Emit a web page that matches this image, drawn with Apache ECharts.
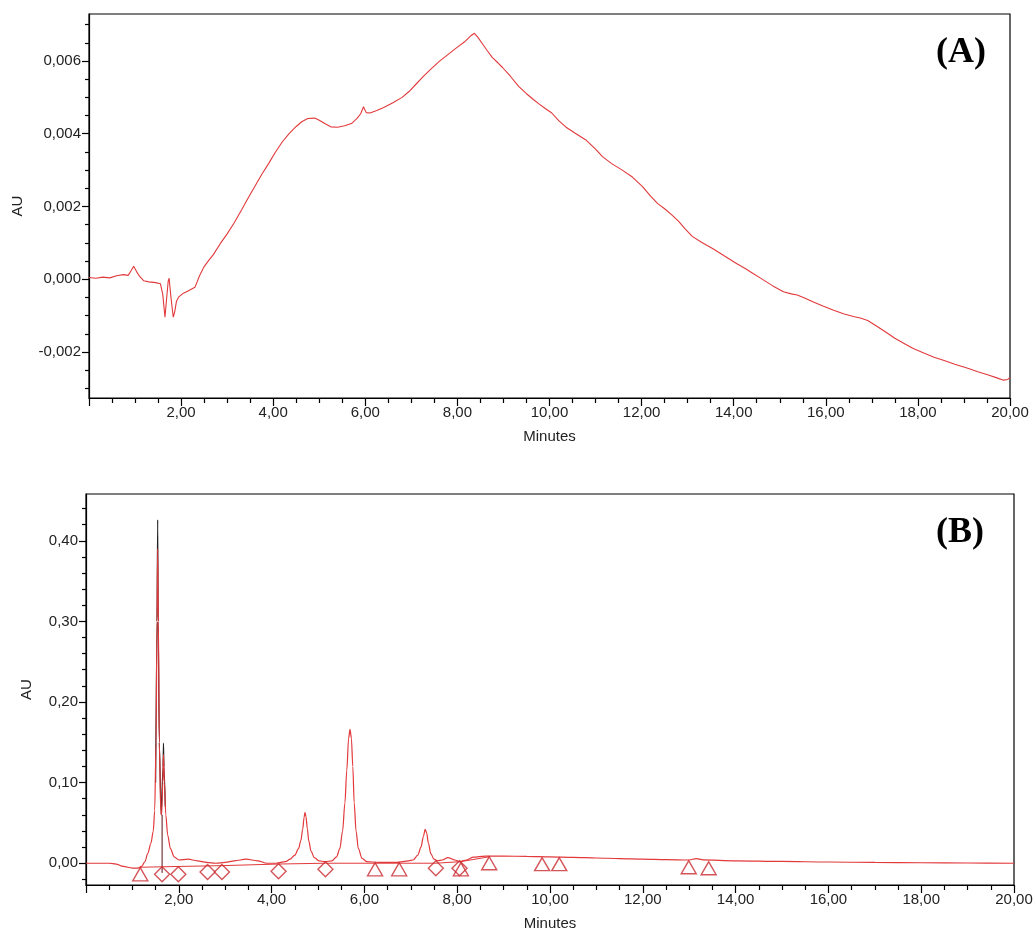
<!DOCTYPE html>
<html>
<head>
<meta charset="utf-8">
<script src="https://cdn.jsdelivr.net/npm/echarts@6/dist/echarts.min.js"></script>
<style>html,body{margin:0;padding:0;background:#fff}#c{width:1036px;height:934px}</style>
</head>
<body>
<div id="c"></div>
<script>
// ---- Panel A: baseline chromatogram (minutes, AU) ----
var aTime = [0.00,0.15,0.30,0.45,0.60,0.75,0.85,0.92,0.97,1.03,1.10,1.19,1.30,1.45,1.55,1.60,1.65,1.68,1.72,1.74,1.78,1.83,1.86,1.90,1.95,2.05,2.15,2.30,2.40,2.50,2.60,2.70,2.85,3.00,3.15,3.30,3.45,3.60,3.75,3.90,4.05,4.20,4.35,4.50,4.62,4.75,4.90,5.00,5.12,5.25,5.40,5.55,5.70,5.82,5.90,5.96,6.02,6.10,6.25,6.40,6.60,6.80,6.95,7.10,7.25,7.40,7.60,7.80,8.00,8.15,8.30,8.37,8.45,8.55,8.65,8.76,8.88,8.98,9.15,9.33,9.50,9.65,9.77,9.90,10.05,10.20,10.36,10.55,10.80,11.00,11.15,11.35,11.58,11.80,12.02,12.20,12.35,12.50,12.65,12.80,12.95,13.10,13.30,13.55,13.80,14.07,14.25,14.42,14.60,14.85,15.08,15.25,15.38,15.55,15.73,15.95,16.17,16.40,16.60,16.75,16.91,17.10,17.34,17.50,17.70,17.90,18.14,18.35,18.57,18.80,19.10,19.30,19.53,19.70,19.86,19.95,20.00];
var aAU = [0.00005,0.00003,0.00006,0.00004,0.00010,0.00013,0.00011,0.00025,0.00036,0.00022,0.00008,-0.00004,-0.00007,-0.00009,-0.00012,-0.00040,-0.00104,-0.00060,-0.00005,0.00003,-0.00050,-0.00104,-0.00090,-0.00060,-0.00048,-0.00038,-0.00032,-0.00022,0.00010,0.00035,0.00052,0.00068,0.00098,0.00125,0.00155,0.00188,0.00222,0.00255,0.00288,0.00318,0.00350,0.00378,0.00401,0.00420,0.00433,0.00442,0.00443,0.00437,0.00428,0.00419,0.00418,0.00422,0.00428,0.00442,0.00455,0.00474,0.00458,0.00457,0.00464,0.00472,0.00485,0.00500,0.00516,0.00536,0.00556,0.00575,0.00598,0.00618,0.00638,0.00652,0.00670,0.00676,0.00664,0.00646,0.00628,0.00609,0.00595,0.00582,0.00558,0.00530,0.00510,0.00494,0.00482,0.00470,0.00457,0.00436,0.00418,0.00402,0.00382,0.00358,0.00337,0.00318,0.00300,0.00281,0.00255,0.00228,0.00208,0.00194,0.00178,0.00160,0.00138,0.00118,0.00102,0.00084,0.00064,0.00043,0.00030,0.00016,0.00002,-0.00018,-0.00034,-0.00040,-0.00043,-0.00052,-0.00062,-0.00074,-0.00085,-0.00095,-0.00102,-0.00106,-0.00113,-0.00128,-0.00148,-0.00162,-0.00176,-0.00190,-0.00203,-0.00214,-0.00223,-0.00233,-0.00245,-0.00254,-0.00263,-0.00270,-0.00277,-0.00275,-0.00270];
var aYTicks = [-0.002,0,0.002,0.004,0.006];
var aYMinor = [-0.003,-0.0025,-0.0015,-0.001,-0.0005,0.0005,0.001,0.0015,0.0025,0.003,0.0035,0.0045,0.005,0.0055,0.0065,0.007];

// ---- Panel B: sample chromatogram ----
var bTime = [0,0.5,0.65,0.8,1.0,1.12,1.20,1.27,1.33,1.40,1.45,1.48,1.51,1.53,1.545,1.56,1.58,1.61,1.63,1.655,1.67,1.69,1.72,1.76,1.82,1.90,2.00,2.20,2.40,2.60,2.80,3.00,3.20,3.45,3.70,3.90,4.10,4.30,4.40,4.50,4.58,4.63,4.67,4.70,4.72,4.74,4.77,4.80,4.85,4.92,5.02,5.15,5.30,5.40,5.47,5.53,5.58,5.62,5.66,5.69,5.72,5.75,5.78,5.82,5.87,5.95,6.05,6.30,6.70,6.95,7.05,7.15,7.22,7.27,7.31,7.34,7.38,7.43,7.50,7.58,7.68,7.80,7.95,8.05,8.20,8.35,8.60,9.0,9.5,10.0,10.5,11.0,11.5,12.0,12.5,13.0,13.15,13.30,14.0,15.0,16.0,17.0,18.0,19.0,20.0];
var bAU = [0,0,-0.001,-0.004,-0.006,-0.006,-0.004,0.002,0.012,0.025,0.040,0.065,0.150,0.300,0.390,0.300,0.150,0.065,0.060,0.100,0.135,0.100,0.060,0.035,0.018,0.008,0.004,0.005,0.003,0.001,0.000,0.001,0.003,0.005,0.003,0.000,0.000,0.002,0.005,0.010,0.018,0.028,0.042,0.057,0.063,0.058,0.043,0.028,0.015,0.007,0.003,0.002,0.003,0.008,0.018,0.040,0.075,0.115,0.155,0.166,0.155,0.120,0.075,0.040,0.018,0.006,0.002,0.001,0.001,0.003,0.004,0.010,0.020,0.033,0.042,0.038,0.025,0.012,0.005,0.003,0.004,0.007,0.004,0.002,0.004,0.0075,0.0088,0.0088,0.0085,0.0078,0.0072,0.0065,0.0058,0.0052,0.0045,0.0040,0.0058,0.0042,0.0030,0.0022,0.0015,0.0010,0.0006,0.0003,0.0];
var bRawTime = [1.50,1.53,1.545,1.555,1.58,1.62,1.66,1.67,1.68,1.71];
var bRawAU = [0.10,0.30,0.426,0.30,0.15,0.06,0.12,0.149,0.12,0.07];
var bDropTime = [1.64,1.64];
var bDropAU = [0.06,-0.012];
var bBaseTime = [1.17,2.00,2.93,4.15,5.16,6.23,7.54,8.08,8.69];
var bBaseAU = [-0.005,-0.004,-0.003,-0.001,0.0,0.0,0.0,0.002,0.008];
var bTriTime = [1.17,6.23,6.75,8.08,8.69,9.83,10.20,12.99,13.42];
var bTriAU = [-0.0137,-0.0075,-0.0075,-0.0075,0.0,-0.0012,-0.0012,-0.005,-0.0062];
var bDiaTime = [1.64,1.99,2.62,2.93,4.15,5.16,7.54,8.05];
var bDiaAU = [-0.0137,-0.0137,-0.011,-0.011,-0.010,-0.0075,-0.0062,-0.0062];
var bYTicks = [0,0.1,0.2,0.3,0.4];
var bYMinor = [-0.02,0.02,0.04,0.06,0.08,0.12,0.14,0.16,0.18,0.22,0.24,0.26,0.28,0.32,0.34,0.36,0.38,0.42,0.44];

var xTicksLabel = [2,4,6,8,10,12,14,16,18,20];

function zip(a,b){var r=[];for(var i=0;i<a.length;i++)r.push([a[i],b[i]]);return r;}
function fmt(d){return function(v){return v.toFixed(d).replace('.',',');};}

var RED = '#e2393b', MRED = '#c92a2f', TXT = '#222';
var FONT = 'Liberation Sans, Arial, sans-serif';

function xAx(g){
  return {gridIndex:g,type:'value',min:0,max:20,interval:2,
    axisLine:{onZero:false,lineStyle:{color:'#000',width:1.2}},
    axisTick:{length:8,lineStyle:{color:'#000',width:1.2}},
    minorTick:{show:true,splitNumber:4,length:5,lineStyle:{color:'#000',width:1.2}},
    splitLine:{show:false},minorSplitLine:{show:false},
    axisLabel:{fontSize:15,color:TXT,fontFamily:FONT,margin:7,
      formatter:function(v){return xTicksLabel.indexOf(Math.round(v))>=0?fmt(2)(v):'';}},
    name:'Minutes',nameLocation:'middle',nameGap:31,
    nameTextStyle:{fontSize:15,color:TXT,fontFamily:FONT}};
}
function yMain(g,min,max,ticks,dec,gap){
  return {gridIndex:g,type:'value',min:min,max:max,
    axisLine:{show:true,onZero:false,lineStyle:{color:'#000',width:1.2}},
    axisTick:{length:7,customValues:ticks,lineStyle:{color:'#000',width:1.2}},
    axisLabel:{customValues:ticks,fontSize:15,color:TXT,fontFamily:FONT,margin:8,formatter:fmt(dec)},
    splitLine:{show:false},
    name:'AU',nameLocation:'middle',nameGap:gap,nameRotate:90,
    nameTextStyle:{fontSize:15,color:TXT,fontFamily:FONT}};
}
function yMinor(g,min,max,ticks){
  return {gridIndex:g,type:'value',min:min,max:max,position:'left',
    axisLine:{show:false,onZero:false},
    axisTick:{length:4,customValues:ticks,lineStyle:{color:'#000',width:1.2}},
    axisLabel:{show:false},splitLine:{show:false}};
}

var chart = echarts.init(document.getElementById('c'),null,{renderer:'canvas'});
chart.setOption({
  animation:false,
  backgroundColor:'#fff',
  title:[
    {text:'(A)',right:45,top:30,textStyle:{fontFamily:'Liberation Serif, Times New Roman, serif',fontWeight:'bold',fontSize:36,color:'#000'}},
    {text:'(B)',right:47,top:510,textStyle:{fontFamily:'Liberation Serif, Times New Roman, serif',fontWeight:'bold',fontSize:36,color:'#000'}}
  ],
  grid:[
    {left:89,top:14,right:26,bottom:536,show:true,borderColor:'#000',borderWidth:1.2,backgroundColor:'#fff'},
    {left:86,top:494,right:22,bottom:49,show:true,borderColor:'#000',borderWidth:1.2,backgroundColor:'#fff'}
  ],
  xAxis:[xAx(0),xAx(1)],
  yAxis:[
    yMain(0,-0.00326,0.00729,aYTicks,3,64),
    yMinor(0,-0.00326,0.00729,aYMinor),
    yMain(1,-0.027,0.458,bYTicks,2,52),
    yMinor(1,-0.027,0.458,bYMinor)
  ],
  series:[
    {type:'line',xAxisIndex:0,yAxisIndex:0,data:zip(aTime,aAU),showSymbol:false,lineStyle:{color:RED,width:1.1},z:3},
    {type:'line',xAxisIndex:1,yAxisIndex:2,data:zip(bRawTime,bRawAU),showSymbol:false,smooth:0.2,smoothMonotone:'x',lineStyle:{color:'#222',width:1.2},z:2},
    {type:'line',xAxisIndex:1,yAxisIndex:2,data:zip(bDropTime,bDropAU),showSymbol:false,lineStyle:{color:'#5a1010',width:1},z:2},
    {type:'line',xAxisIndex:1,yAxisIndex:2,data:zip(bBaseTime,bBaseAU),showSymbol:false,lineStyle:{color:RED,width:1},z:3},
    {type:'line',xAxisIndex:1,yAxisIndex:2,data:zip(bTime,bAU),showSymbol:false,smooth:0.3,smoothMonotone:'x',lineStyle:{color:RED,width:1.2},z:4},
    {type:'scatter',xAxisIndex:1,yAxisIndex:2,data:zip(bTriTime,bTriAU),symbol:'triangle',symbolSize:[15,13],
      itemStyle:{color:'rgba(255,255,255,0)',borderColor:MRED,borderWidth:1.4},z:5},
    {type:'scatter',xAxisIndex:1,yAxisIndex:2,data:zip(bDiaTime,bDiaAU),symbol:'diamond',symbolSize:[15,15],
      itemStyle:{color:'rgba(255,255,255,0)',borderColor:MRED,borderWidth:1.4},z:5}
  ]
});
</script>
</body>
</html>
